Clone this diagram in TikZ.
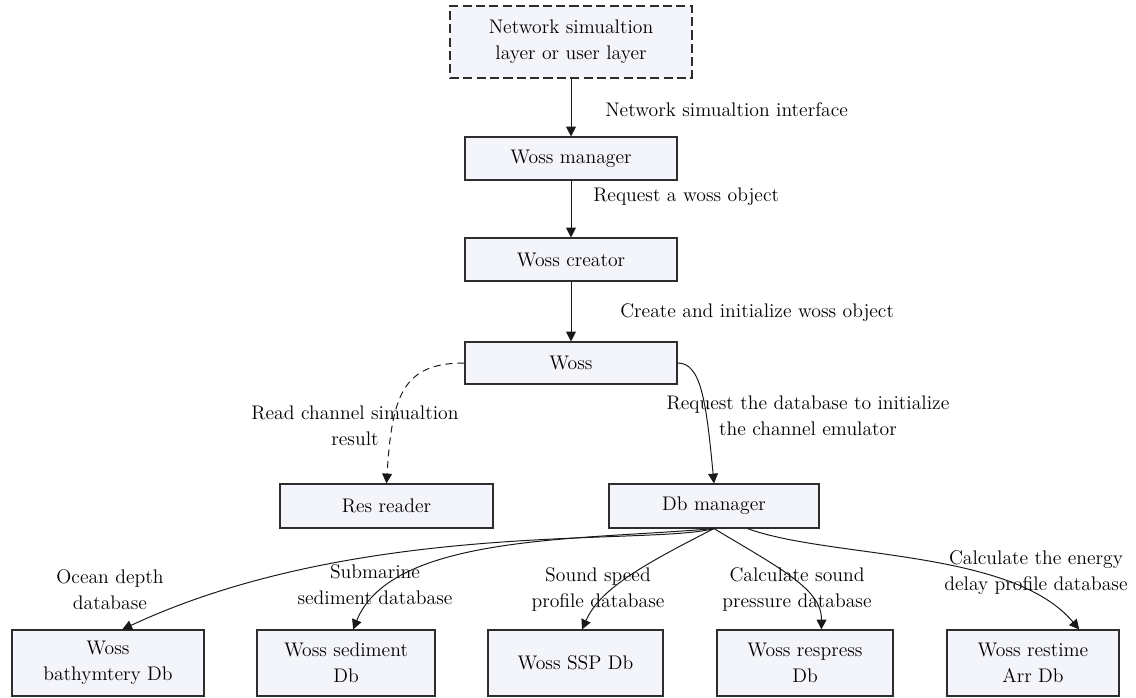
\documentclass[tikz,border=0pt]{standalone}
\usepackage{tikz}
\usepackage{xcolor}
\usetikzlibrary{arrows.meta}
\definecolor{boxfill}{RGB}{244,245,251}
\definecolor{boxline}{RGB}{45,45,45}
\tikzset{
    box/.style={draw=boxline, line width=0.8pt, fill=boxfill, align=center, inner sep=2pt,
        minimum height=1.075cm, font=\fontsize{14}{18.5}\selectfont},
    dbbox/.style={box, minimum height=1.65cm},
    note/.style={align=center, inner sep=0pt, font=\fontsize{14}{18.5}\selectfont},
    link/.style={draw=black!90, line width=0.7pt, -{Triangle[length=7pt,width=7pt]}},
    dashlink/.style={link, dash pattern=on 5pt off 3.5pt}
}

\begin{document}
\begin{tikzpicture}
    \useasboundingbox (0, 0) rectangle (28.4, -17.425);
    \node[box, dash pattern=on 6.5pt off 3pt, minimum width=6.05cm, minimum height=1.8cm] (netlayer) at (14.275, -1.05) {Network simualtion\\layer or user layer};
    \node[box, minimum width=5.3cm] (manager) at (14.275, -3.9625) {Woss manager};
    \node[box, minimum width=5.3cm] (creator) at (14.275, -6.4875) {Woss creator};
    \node[box, minimum width=5.3cm, minimum height=1.05cm] (woss) at (14.275, -9.075) {Woss};
    \node[box, minimum width=5.325cm, minimum height=1.1cm] (reader) at (9.6625, -12.65) {Res reader};
    \node[box, minimum width=5.25cm, minimum height=1.1cm] (dbm) at (17.85, -12.65) {Db manager};
    \node[dbbox, minimum width=4.8cm] (bath) at (2.7, -16.575) {Woss\\bathymtery Db};
    \node[dbbox, minimum width=4.45cm] (sed) at (8.65, -16.575) {Woss sediment\\Db};
    \node[dbbox, minimum width=4.375cm] (ssp) at (14.3875, -16.575) {Woss SSP Db};
    \node[dbbox, minimum width=4.4cm] (resp) at (20.125, -16.575) {Woss respress\\Db};
    \node[dbbox, minimum width=4.3cm] (rest) at (25.825, -16.575) {Woss restime\\Arr Db};

    \node[note, anchor=west] (lblIface) at (15.125, -2.75) {Network simualtion interface};
    \node[note, anchor=west] (lblRequest) at (14.825, -4.925) {Request a woss object};
    \node[note, anchor=west] (lblCreate) at (15.5, -7.825) {Create and initialize woss object};
    \node[note] (lblRead) at (8.875, -10.64) {Read channel simualtion\\result};
    \node[note] (lblInit) at (20.2, -10.39) {Request the database to initialize\\the channel emulator};
    \node[note] (lblDepth) at (2.75, -14.74) {Ocean depth\\database};
    \node[note] (lblSediment) at (9.375, -14.61) {Submarine\\sediment database};
    \node[note] (lblSound) at (14.95, -14.74) {Sound speed\\profile database};
    \node[note] (lblPressure) at (19.925, -14.74) {Calculate sound\\pressure database};
    \node[note] (lblEnergy) at (25.9, -14.31) {Calculate the energy\\delay profile database};

    \path
    (netlayer) edge[link] (manager)
    (manager) edge[link] (creator)
    (creator) edge[link] (woss)
    (woss.west) edge[dashlink, out=180, in=86.5, out distance=1.53cm, in distance=2.23cm] (reader.north)
    (woss.east) edge[link, out=0, in=95.4, out distance=0.58cm, in distance=2.11cm] (dbm.north);
    \path
    (dbm.south) edge[link, out=195, in=25, out distance=1.66cm, in distance=6.56cm] (bath.67)
    (dbm.south) edge[link, out=185, in=68, out distance=3.36cm, in distance=2.57cm] (sed.78)
    (dbm.south) edge[link, out=207, in=66, out distance=2.07cm, in distance=1.1cm] (ssp.79)
    (dbm.south) edge[link, out=-31, in=89, out distance=1.92cm, in distance=1cm] (resp.64)
    (dbm.-34) edge[link, out=-20, in=130, out distance=2.2cm, in distance=2.63cm] (rest.36);
\end{tikzpicture}
\end{document}
